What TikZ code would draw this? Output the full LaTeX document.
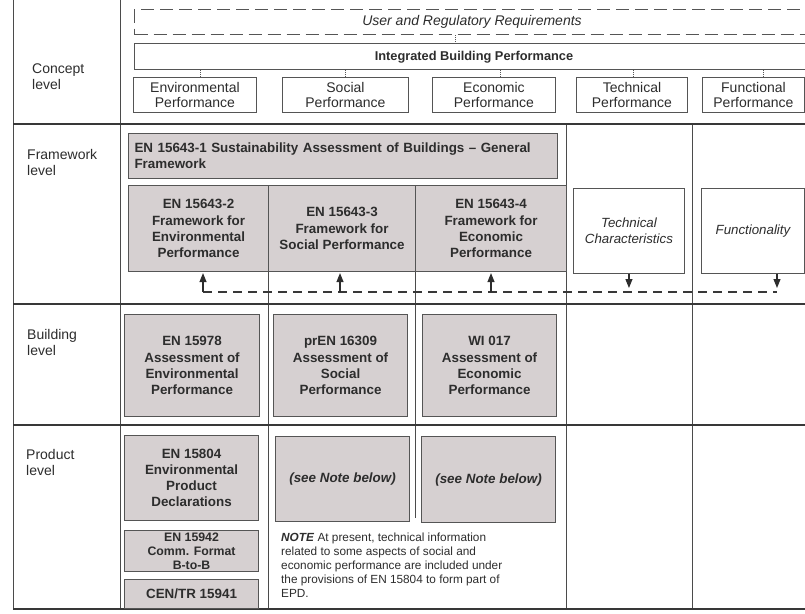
\documentclass[tikz,border=0pt]{standalone}
\usepackage{fontspec}
\setmainfont{Liberation Sans}
\usetikzlibrary{arrows.meta}
\definecolor{gridc}{RGB}{75,75,75}
\definecolor{boxc}{RGB}{85,85,85}
\definecolor{fillg}{RGB}{214,208,209}
\definecolor{txt}{RGB}{45,45,45}
\newcommand\fbold{\bfseries\fontsize{13.4}{16.2}\selectfont}
\newcommand\freg{\fontsize{14}{15.5}\selectfont}
\newcommand\fsmallbold{\bfseries\fontsize{12.3}{14}\selectfont}
\newcommand\fnote{\fontsize{11.8}{14.1}\selectfont}
\begin{document}
\begin{tikzpicture}[x=1pt,y=-1pt,
  gridline/.style={draw=gridc,line width=1pt},
  thickline/.style={draw=gridc!75!black,line width=2pt},
  gbox/.style={draw=boxc,fill=fillg,line width=1.1pt,align=center,text=txt,inner sep=0pt,anchor=north west,font=\fbold},
  cbox/.style={draw=boxc,fill=white,line width=0.9pt,align=center,text=txt,inner sep=0pt,anchor=north west,font=\freg},
  ibox/.style={cbox,font=\itshape\fontsize{13.3}{16}\selectfont},
  lvl/.style={anchor=north west,align=left,text=txt,inner sep=0pt,font=\fontsize{14}{16}\selectfont},
  dotc/.style={draw=boxc,line width=0.5pt,dash pattern=on 1pt off 1pt},
  dashl/.style={draw=gridc!75!black,line width=1.1pt,dash pattern=on 9pt off 6pt},
  arr/.style={draw=gridc!60!black,line width=1.1pt,-{Triangle[length=9pt,width=7pt]}},
]
\useasboundingbox[fill=white] (0,0) rectangle (805,613);

% ---------- table rules ----------
\draw[gridline] (13,0) -- (13,609);
\draw[gridline] (120,0) -- (120,609);
\draw[gridline] (566,124) -- (566,609);
\draw[gridline] (692,124) -- (692,609);
\draw[gridline] (268,185) -- (268,609);
\draw[gridline] (415,185) -- (415,518);
\draw[thickline] (13,124) -- (810,124);
\draw[thickline] (13,304) -- (810,304);
\draw[thickline] (13,425) -- (810,425);
\draw[thickline] (13,609) -- (810,609);

% ---------- level labels ----------
\node[lvl] (lconcept) at (32,63.5) {Concept\\level};
\node[lvl] (lframe) at (27,149.5) {Framework\\level};
\node[lvl] (lbuild) at (27,329.5) {Building\\level};
\node[lvl] (lprod) at (26,449.5) {Product\\level};

% ---------- concept level ----------
\node[draw=boxc,line width=1pt,dash pattern=on 13pt off 6pt,anchor=north west,minimum width=700pt,minimum height=25pt,inner sep=0pt] (ureq) at (134,9) {};
\node[text=txt,font=\itshape\fontsize{14}{16}\selectfont,inner sep=0pt] (ureqt) at (472,21.5) {User and Regulatory Requirements};
\node[cbox,minimum width=700pt,minimum height=26pt] (ibp) at (134,43) {};
\node[text=txt,font=\bfseries\fontsize{12.8}{15}\selectfont,inner sep=0pt] (ibpt) at (474,57) {Integrated Building Performance};

\node[cbox,minimum width=123pt,minimum height=35pt] (cenv) at (133,77) {Environmental\\Performance};
\node[cbox,minimum width=126pt,minimum height=35pt] (csoc) at (282,77) {Social\\Performance};
\node[cbox,minimum width=123pt,minimum height=35pt] (ceco) at (432,77) {Economic\\Performance};
\node[cbox,minimum width=111pt,minimum height=35pt] (ctec) at (576,77) {Technical\\Performance};
\node[cbox,minimum width=102pt,minimum height=35pt] (cfun) at (702,77) {Functional\\Performance};

\coordinate (k0) at (455,0);
\draw[dotc] (ureq.south -| k0) -- (ibp.north -| k0);
\foreach \n/\xx in {cenv/200,csoc/345,ceco/500,ctec/633,cfun/763}{
  \coordinate (k\n) at (\xx,0);
  \draw[dotc] (ibp.south -| k\n) -- (\n.north -| k\n);
}

% ---------- framework level ----------
\node[gbox,minimum width=429pt,minimum height=45pt,text width=417pt,align=left] (fw1) at (128,133)
  {EN 15643-1 Sustainability Assessment of Buildings -- General\\Framework};
\node[gbox,minimum width=140pt,minimum height=86pt] (fw2) at (128,185) {EN 15643-2\\Framework for\\Environmental\\Performance};
\node[gbox,minimum width=147pt,minimum height=86pt] (fw3) at (268,185) {EN 15643-3\\Framework for\\Social Performance};
\node[gbox,minimum width=151pt,minimum height=86pt] (fw4) at (415,185) {EN 15643-4\\Framework for\\Economic\\Performance};
\node[ibox,minimum width=111pt,minimum height=85pt] (tch) at (573,188) {Technical\\Characteristics};
\node[ibox,minimum width=103pt,minimum height=85pt] (fnc) at (701,188) {Functionality};

\coordinate (dl) at (203,292);
\coordinate (d2) at (340,292);
\coordinate (d3) at (491,292);
\coordinate (dr) at (777,292);
\draw[dashl] (dl) -- (dr);
\draw[arr,shorten >=1pt] (dl) -- (dl |- fw2.south);
\draw[arr,shorten >=1pt] (d2) -- (d2 |- fw3.south);
\draw[arr,shorten >=1pt] (d3) -- (d3 |- fw4.south);
\draw[arr,shorten >=4pt] (tch.south) -- (tch.south |- dl);
\draw[arr,shorten >=4pt] (dr |- fnc.south) -- (dr);

% ---------- building level ----------
\node[gbox,minimum width=135pt,minimum height=102pt] (b1) at (124,314) {EN 15978\\Assessment of\\Environmental\\Performance};
\node[gbox,minimum width=134pt,minimum height=102pt] (b2) at (273,314) {prEN 16309\\Assessment of\\Social\\Performance};
\node[gbox,minimum width=134pt,minimum height=102pt] (b3) at (422,314) {WI 017\\Assessment of\\Economic\\Performance};

% ---------- product level ----------
\node[gbox,minimum width=134pt,minimum height=85pt] (p1) at (124,435) {EN 15804\\Environmental\\Product\\Declarations};
\node[gbox,minimum width=134pt,minimum height=85pt,font=\fbold\itshape] (p2) at (275,436) {(see Note below)};
\node[gbox,minimum width=134pt,minimum height=86pt,font=\fbold\itshape] (p3) at (421,436) {(see Note below)};
\node[gbox,minimum width=134pt,minimum height=41pt,font=\fsmallbold] (p4) at (124,530) {EN 15942\\Comm. Format\\B-to-B};
\node[gbox,minimum width=134pt,minimum height=29pt] (p5) at (124,579) {CEN/TR 15941};

\node[anchor=north west,align=left,text=txt,inner sep=0pt,font=\fnote] (note) at (281,532.5)
  {\textbf{\textit{NOTE}} At present, technical information\\
   related to some aspects of social and\\
   economic performance are included under\\
   the provisions of EN 15804 to form part of\\
   EPD.};
\end{tikzpicture}
\end{document}
